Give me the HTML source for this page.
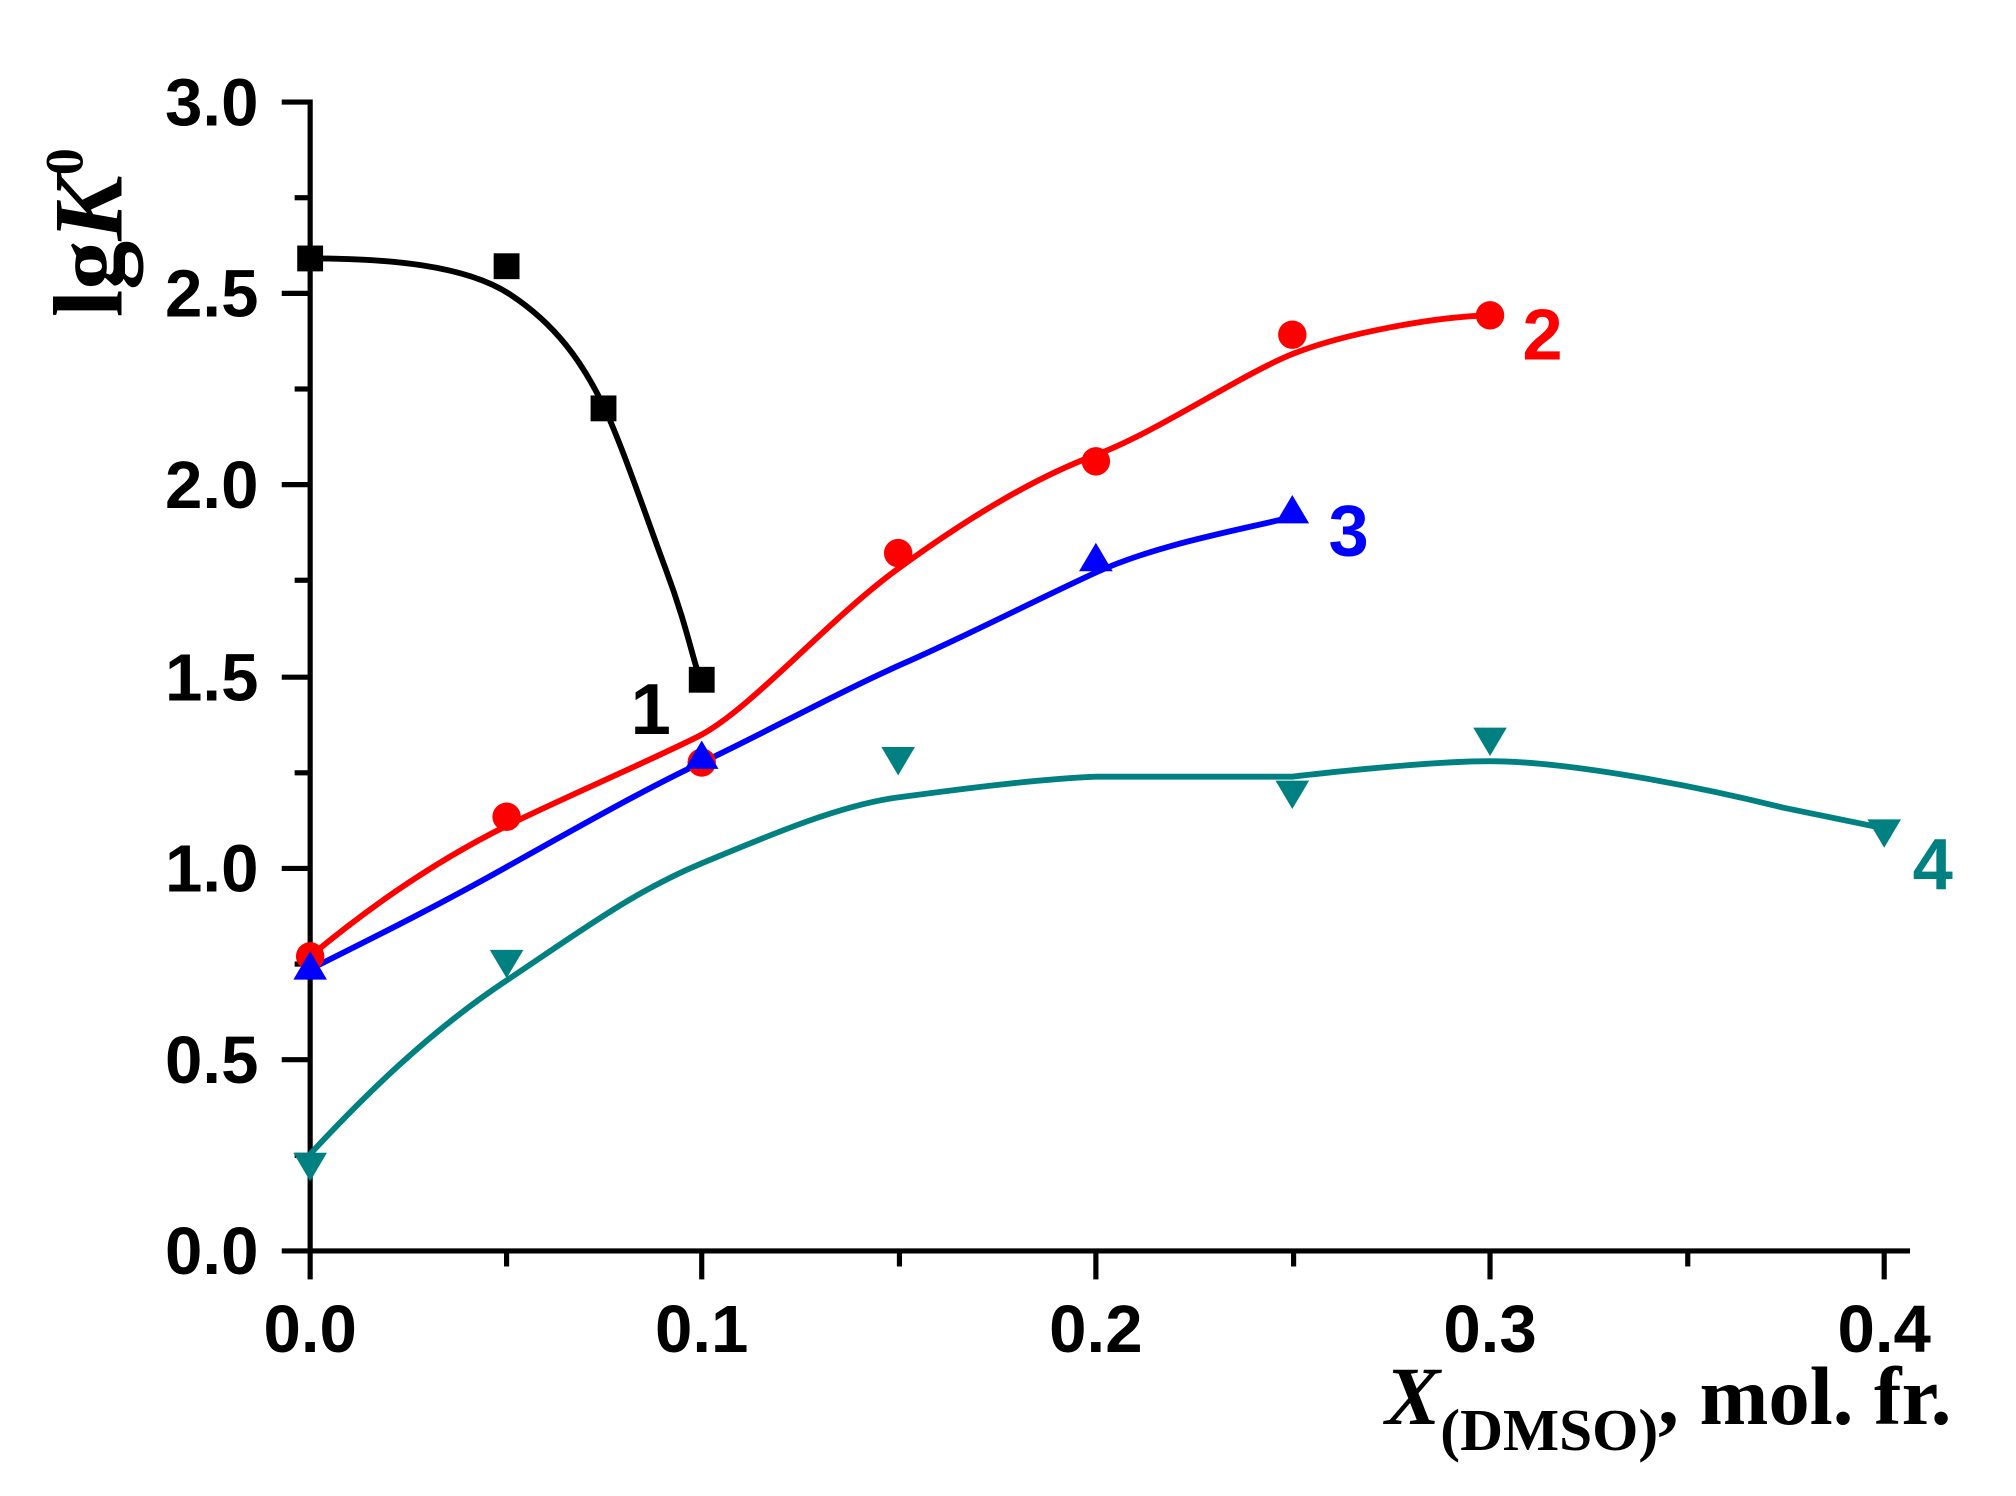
<!DOCTYPE html>
<html><head><meta charset="utf-8"><style>html,body{margin:0;padding:0;background:#fff}svg{display:block}</style></head>
<body>
<svg width="2016" height="1496" viewBox="0 0 1560 1157.6" preserveAspectRatio="none" xmlns="http://www.w3.org/2000/svg">
<g stroke="#000" stroke-width="4" fill="none">
<line x1="240" y1="77" x2="240" y2="968"/>
<line x1="238" y1="968" x2="1478" y2="968"/>
<line x1="218" y1="79" x2="240" y2="79"/><line x1="228" y1="153" x2="240" y2="153"/>
<line x1="218" y1="227" x2="240" y2="227"/><line x1="228" y1="301" x2="240" y2="301"/>
<line x1="218" y1="375" x2="240" y2="375"/><line x1="228" y1="449" x2="240" y2="449"/>
<line x1="218" y1="524" x2="240" y2="524"/><line x1="228" y1="598" x2="240" y2="598"/>
<line x1="218" y1="672" x2="240" y2="672"/><line x1="228" y1="746" x2="240" y2="746"/>
<line x1="218" y1="820" x2="240" y2="820"/><line x1="228" y1="894" x2="240" y2="894"/>
<line x1="218" y1="968" x2="240" y2="968"/>
<line x1="240" y1="968" x2="240" y2="990"/><line x1="392" y1="968" x2="392" y2="980"/>
<line x1="543" y1="968" x2="543" y2="990"/><line x1="696" y1="968" x2="696" y2="980"/>
<line x1="848" y1="968" x2="848" y2="990"/><line x1="1001" y1="968" x2="1001" y2="980"/>
<line x1="1153" y1="968" x2="1153" y2="990"/><line x1="1306" y1="968" x2="1306" y2="980"/>
<line x1="1458" y1="968" x2="1458" y2="990"/>
</g>
<g font-family="Liberation Sans, sans-serif" font-weight="bold" font-size="52" text-anchor="end">
<text x="200" y="97">3.0</text><text x="200" y="245">2.5</text><text x="200" y="393">2.0</text>
<text x="200" y="542">1.5</text><text x="200" y="690">1.0</text><text x="200" y="838">0.5</text>
<text x="200" y="986">0.0</text>
</g>
<g font-family="Liberation Sans, sans-serif" font-weight="bold" font-size="52" text-anchor="middle">
<text x="240" y="1046">0.0</text><text x="543" y="1046">0.1</text><text x="848" y="1046">0.2</text>
<text x="1153" y="1046">0.3</text><text x="1458" y="1046">0.4</text>
</g>
<text transform="translate(94,180) rotate(-90)" font-family="Liberation Serif, serif" font-weight="bold" font-size="76" text-anchor="middle">lg<tspan font-style="italic">K</tspan><tspan font-size="42" dy="-30">0</tspan></text>
<text x="1510" y="1102" font-family="Liberation Serif, serif" font-weight="bold" font-size="64" text-anchor="end"><tspan font-style="italic">X</tspan><tspan font-size="46" dy="20">(DMSO)</tspan><tspan dy="-20">,  mol. fr.</tspan></text>
<g fill="none" stroke-width="4.5" stroke-linejoin="round" stroke-linecap="round">
<path stroke="#000" d="M240,200 C300,200 360,205 395,228 S450,280 465,310 S500,400 515,440 S535,505 540,520"/>
<path stroke="#f00" d="M240,740 C300,690 350,660 390,640 S500,590 540,570 S640,480 695,440 S800,370 848,352 S960,290 1000,274 S1110,245 1153,244"/>
<path stroke="#00f" d="M240,750 C300,720 340,700 390,672 S500,610 543,590 S650,535 700,513 S800,465 848,443 S960,410 1000,400"/>
<path stroke="#008080" d="M240,893 C280,850 330,800 390,760 S490,690 543,668 S650,623 695,617 S800,603 848,601 L1000,601 S1100,589 1153,589 S1300,605 1380,625 L1458,641"/>
</g>
<g fill="#000"><rect x="230" y="190" width="20" height="20"/><rect x="382" y="196" width="20" height="20"/><rect x="457" y="306" width="20" height="20"/><rect x="533" y="516" width="20" height="20"/></g>
<g fill="#f00"><circle cx="240" cy="740" r="11"/><circle cx="392" cy="632" r="11"/><circle cx="543" cy="590" r="11"/><circle cx="695" cy="428" r="11"/><circle cx="848" cy="357" r="11"/><circle cx="1000" cy="259" r="11"/><circle cx="1153" cy="244" r="11"/></g>
<g fill="#00f"><polygon points="240,736 253,758 227,758"/><polygon points="543,573 556,595 530,595"/><polygon points="848,420 861,442 835,442"/><polygon points="1000,383 1013,405 987,405"/></g>
<g fill="#008080"><polygon points="227,892 253,892 240,914"/><polygon points="379,735 405,735 392,757"/><polygon points="682,578 708,578 695,600"/><polygon points="987,604 1013,604 1000,626"/><polygon points="1140,563 1166,563 1153,585"/><polygon points="1445,634 1471,634 1458,656"/></g>
<g font-family="Liberation Sans, sans-serif" font-weight="bold" font-size="56">
<text x="488" y="568" fill="#000">1</text><text x="1178" y="278" fill="#f00">2</text>
<text x="1028" y="430" fill="#00f">3</text><text x="1480" y="688" fill="#008080">4</text>
</g>
</svg>
</body></html>
